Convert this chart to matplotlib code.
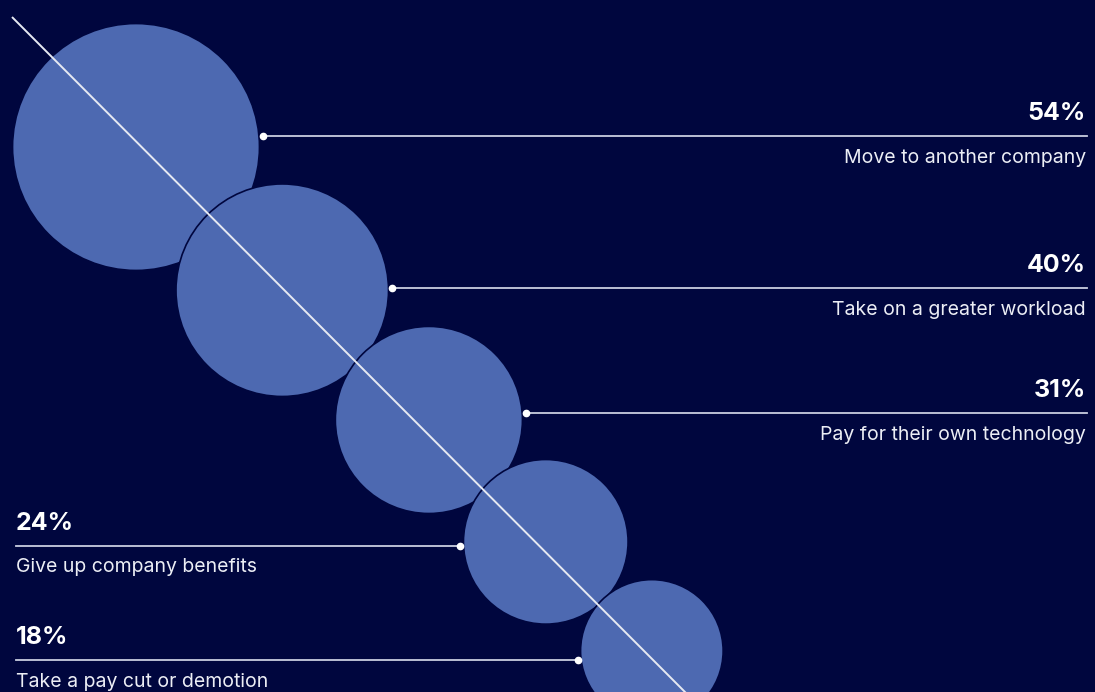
import matplotlib.pyplot as plt
from matplotlib.patches import Circle
import numpy as np

plt.rcParams['font.family'] = ['Inter', 'DejaVu Sans']

# Share of respondents for each action
actions = ['Move to another company', 'Take on a greater workload',
           'Pay for their own technology', 'Give up company benefits',
           'Take a pay cut or demotion']
shares = [54, 40, 31, 24, 18]

BG = '#00063e'
BUBBLE = '#4d69b1'
LINE = '#e6e9f2'

W, H = 1095, 692
fig = plt.figure(figsize=(W / 100, H / 100), dpi=100)
fig.patch.set_facecolor(BG)
ax = fig.add_axes([0, 0, 1, 1])
ax.set_facecolor(BG)
ax.set_xlim(0, W)
ax.set_ylim(H, 0)
ax.axis('off')

# bubble radius scales with sqrt of the share (area-proportional)
k = 16.8
radii = [k * np.sqrt(v) for v in shares]

# bubbles chained down-right, each one overlapping the previous a little
first_center = np.array([136.0, 147.0])
step_angles = [44.4, 41.5, 46.2, 45.8]   # degrees below horizontal
overlaps = [25, 4, 7, 1.4]
centers = [first_center]
for i, (ang, ov) in enumerate(zip(step_angles, overlaps)):
    d = radii[i] + radii[i + 1] - ov
    a = np.radians(ang)
    centers.append(centers[-1] + d * np.array([np.cos(a), np.sin(a)]))

for (cx, cy), r in zip(centers, radii):
    ax.add_patch(Circle((cx, cy), r, facecolor=BUBBLE, edgecolor=BG,
                        linewidth=1.2, zorder=2))

# 45 degree guide line through the bubbles
ax.plot([12, 12 + 700], [17, 17 + 700 * 1.003], color=LINE, lw=1.4,
        zorder=3, solid_capstyle='butt')

# leader lines with labels; first three point right, last two point left
leader_y = [136, 288, 413, 545.5, 660]
sides = ['right', 'right', 'right', 'left', 'left']
x_right, x_left = 1086, 16

for (cx, cy), r, y, side, v, name in zip(centers, radii, leader_y, sides,
                                         shares, actions):
    half = np.sqrt(max(r ** 2 - (y - cy) ** 2, 0))
    if side == 'right':
        x0 = cx + half + 4
        x1 = x_right + 1
        tx, ha = x_right, 'right'
    else:
        x0 = cx - half - 3.5
        x1 = x_left
        tx, ha = x_left, 'left'
    ax.plot([x0, x1], [y, y], color='#c9cee0', lw=1.3, zorder=3)
    ax.plot(x0, y, 'o', color='white', ms=4.5, zorder=4)
    ax.text(tx, y - 16, f'{v}%', color='white', fontsize=18,
            fontweight='bold', ha=ha, va='baseline')
    ax.text(tx, y + 27, name, color='#eceef5', fontsize=14,
            ha=ha, va='baseline')

fig.savefig('out.png', dpi=100, facecolor=BG)
